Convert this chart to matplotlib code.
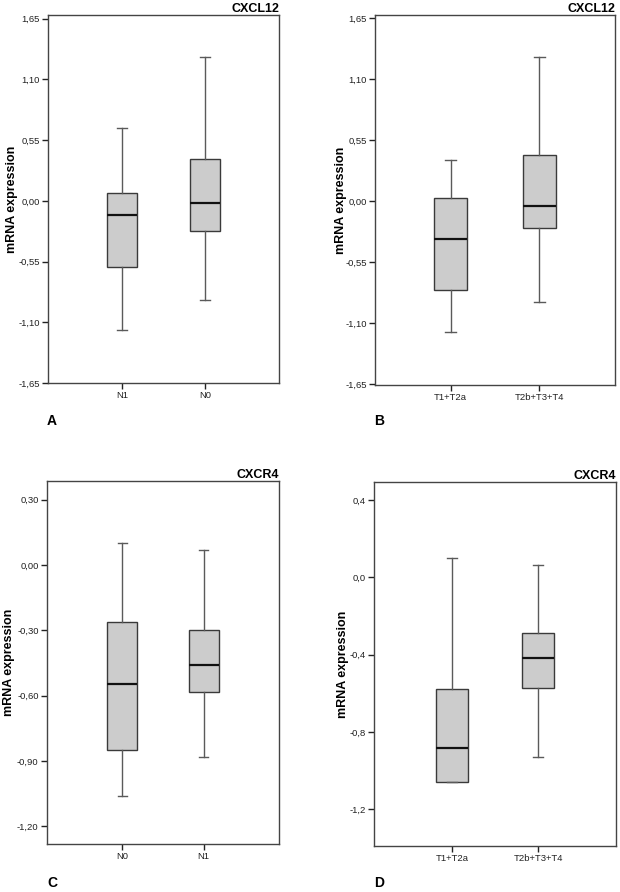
import matplotlib
matplotlib.use("Agg")
import matplotlib.pyplot as plt
from matplotlib.ticker import FixedLocator, FuncFormatter

plt.rcParams["font.family"] = ["Liberation Sans", "DejaVu Sans"]

# ---- data ----
groups_A = ["N1", "N0"]
lo_A  = [-1.17, -0.90]
q1_A  = [-0.60, -0.27]
med_A = [-0.13, -0.02]
q3_A  = [0.07, 0.38]
hi_A  = [0.66, 1.30]

groups_B = ["T1+T2a", "T2b+T3+T4"]
lo_B  = [-1.18, -0.91]
q1_B  = [-0.80, -0.24]
med_B = [-0.34, -0.04]
q3_B  = [0.03, 0.42]
hi_B  = [0.375, 1.30]

groups_C = ["N0", "N1"]
lo_C  = [-1.06, -0.88]
q1_C  = [-0.85, -0.585]
med_C = [-0.545, -0.46]
q3_C  = [-0.26, -0.30]
hi_C  = [0.10, 0.067]

groups_D = ["T1+T2a", "T2b+T3+T4"]
lo_D  = [-1.06, -0.93]
q1_D  = [-1.057, -0.575]
med_D = [-0.885, -0.42]
q3_D  = [-0.58, -0.29]
hi_D  = [0.098, 0.064]

ticks_AB = [-1.65, -1.10, -0.55, 0.00, 0.55, 1.10, 1.65]
ticks_C = [-1.20, -0.90, -0.60, -0.30, 0.00, 0.30]
ticks_D = [-1.2, -0.8, -0.4, 0.0, 0.4]

W, H = 620, 892
fig = plt.figure(figsize=(W / 100, H / 100), dpi=100)


def px_axes(left, top, right, bottom):
    return fig.add_axes([left / W, 1 - bottom / H, (right - left) / W, (bottom - top) / H])


panels = [
    # axes box (px), groups, stats, ticks, decimals, ylim, xlim, title, letter pos, ylabel pos
    ((48, 15, 279, 383), groups_A, (lo_A, q1_A, med_A, q3_A, hi_A), ticks_AB, 2,
     (-1.65, 1.683), (0.11, 2.89), "CXCL12", "A", (52, 421), (12, 199)),
    ((375, 15, 615, 385), groups_B, (lo_B, q1_B, med_B, q3_B, hi_B), ticks_AB, 2,
     (-1.655, 1.68), (0.147, 2.853), "CXCL12", "B", (379, 421), (341, 200)),
    ((47, 481, 279, 844), groups_C, (lo_C, q1_C, med_C, q3_C, hi_C), ticks_C, 2,
     (-1.281, 0.385), (0.07, 2.93), "CXCR4", "C", (52, 883), (9, 662)),
    ((374, 482, 616, 846), groups_D, (lo_D, q1_D, med_D, q3_D, hi_D), ticks_D, 1,
     (-1.39, 0.493), (0.10, 2.90), "CXCR4", "D", (379, 883), (343, 664)),
]

for box, groups, st, ticks, dec, ylim, xlim, title, letter, lpos, ypos in panels:
    ax = px_axes(*box)
    lo, q1, med, q3, hi = st
    stats = [dict(label=g, whislo=a, q1=b, med=c, q3=d, whishi=e)
             for g, a, b, c, d, e in zip(groups, lo, q1, med, q3, hi)]
    ax.bxp(stats, positions=[1, 2], widths=0.37, capwidths=0.12,
           showfliers=False, patch_artist=True,
           boxprops=dict(facecolor="#cccccc", edgecolor="#3a3a3a", linewidth=1.0),
           medianprops=dict(color="#111111", linewidth=1.6),
           whiskerprops=dict(color="#5a5a5a", linewidth=1.0),
           capprops=dict(color="#5a5a5a", linewidth=1.0))
    ax.set_xlim(*xlim)
    ax.set_ylim(*ylim)
    ax.yaxis.set_major_locator(FixedLocator(ticks))
    ax.yaxis.set_major_formatter(
        FuncFormatter(lambda v, p, d=dec: f"{v:.{d}f}".replace(".", ",")))
    ax.set_xticks([1, 2])
    ax.set_xticklabels(groups)
    ax.tick_params(axis="both", labelsize=6.8, length=4, width=1.0,
                   color="#222222", labelcolor="#222222", pad=2)
    for s in ax.spines.values():
        s.set_color("#444444")
        s.set_linewidth(1.0)
    ax.set_title(title, loc="right", fontsize=9, fontweight="bold", pad=2.5)
    fig.text(lpos[0] / W, 1 - lpos[1] / H, letter, fontsize=10, fontweight="bold",
             ha="center", va="center")
    fig.text(ypos[0] / W, 1 - ypos[1] / H, "mRNA expression", fontsize=9,
             fontweight="bold", rotation=90, ha="center", va="center")

fig.savefig("out.png", dpi=100)
